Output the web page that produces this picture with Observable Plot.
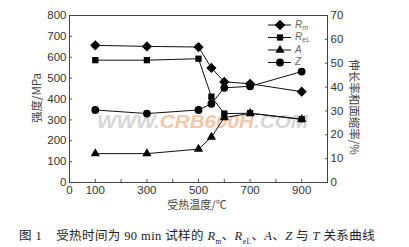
<!DOCTYPE html>
<html>
<head>
<meta charset="utf-8">
<script src="https://cdn.jsdelivr.net/npm/d3@7"></script>
<script src="https://cdn.jsdelivr.net/npm/@observablehq/plot@0.6"></script>
<style>
  html, body { margin: 0; padding: 0; background: #fff; }
  #chart { width: 409px; }
  .caption { font-family: "Liberation Serif", "Noto Sans CJK SC", serif; font-size: 12.5px; color: #222; margin: 11px 0 0 19px; white-space: nowrap; letter-spacing: 0.4px; }
  .caption i { font-family: "Liberation Serif", serif; }
  .caption sub { font-size: 7.5px; }
</style>
</head>
<body>
<div id="chart"></div>
<script>
const temps = [100, 300, 500, 550, 600, 700, 900];
const Rm  = [657, 652, 649, 549, 482, 473, 435];
const ReL = [586, 586, 593, 411, 330, 332, 303];
const A   = [12.1, 12.1, 14.0, 19.0, 27.2, 29.0, 26.5];
const Z   = [30.4, 28.9, 30.4, 33.0, 39.7, 40.3, 46.5];
const leftTicks = [0, 100, 200, 300, 400, 500, 600, 700, 800];
const rightTicks = [0, 10, 20, 30, 40, 50, 60, 70];
const xTicks = [0, 100, 200, 300, 400, 500, 600, 700, 800, 900, 1000];
const xLabeled = [0, 100, 300, 500, 700, 900];

const k = 800 / 70; // right-axis % -> left-axis MPa
const series = [
  {name: "Rm",  vals: Rm,  scale: 1, symbol: "diamond2", r: 4.6},
  {name: "ReL", vals: ReL, scale: 1, symbol: "square2", r: 4.0},
  {name: "A",   vals: A,   scale: k, symbol: "triangle2", r: 4.4},
  {name: "Z",   vals: Z,   scale: k, symbol: "circle", r: 3.9}
];
const rows = series.flatMap(s => temps.map((t, i) => ({series: s.name, t, v: s.vals[i] * s.scale, sym: s.symbol, r: s.r})));

const W = 409, H = 214;
const font = "'Liberation Sans', Arial, sans-serif";
const plot = Plot.plot({
  width: W, height: H,
  marginLeft: 69, marginRight: 82, marginTop: 15, marginBottom: H - 182,
  style: {fontFamily: font, fontSize: "11.5px", color: "#333", background: "#fff"},
  x: {domain: [0, 1000]},
  y: {domain: [0, 800]},
  marks: [
    Plot.axisX({ticks: xTicks, tickSize: -3, tickPadding: 6, stroke: "#555",
      tickFormat: d => xLabeled.includes(d) ? String(d) : "", label: null}),
    Plot.axisY({ticks: leftTicks, tickSize: -3, tickPadding: 6, stroke: "#555", label: null}),
    Plot.axisY({anchor: "right", ticks: rightTicks.map(d => d * k), tickSize: -3, tickPadding: 6, stroke: "#555",
      tickFormat: d => String(Math.round(d / k)), label: null}),
    Plot.frame({stroke: "#444", strokeWidth: 1}),
    Plot.line(rows, {x: "t", y: "v", z: "series", stroke: "#111", strokeWidth: 1}),
    Plot.dot(rows, {x: "t", y: "v", symbol: "sym", r: "r", fill: "#000", stroke: "none"})
  ],
  symbol: {type: "identity"},
  r: {type: "identity"}
});
document.getElementById("chart").appendChild(plot);

const svg = d3.select(plot);
const cjk = "'Noto Sans CJK SC', sans-serif";
// watermark (drawn beneath the marks)
const wm = svg.insert("text", ":first-child").attr("x", 97).attr("y", 128)
  .attr("text-anchor", "start")
  .attr("textLength", 211).attr("lengthAdjust", "spacingAndGlyphs")
  .style("font-family", font).style("font-size", "19px").style("font-weight", "bold").style("font-style", "italic");
wm.append("tspan").attr("fill", "#d6d6d6").text("WWW.");
wm.append("tspan").attr("fill", "#f6c6a8").text("CRB600H");
wm.append("tspan").attr("fill", "#d6d6d6").text(".COM");

// axis titles
svg.append("text").attr("transform", "translate(38,98) rotate(-90)")
  .attr("text-anchor", "middle").attr("dominant-baseline", "middle")
  .style("font-family", cjk).style("font-size", "11.5px").attr("fill", "#444")
  .text("强度/MPa");
svg.append("text").attr("transform", "translate(353,107) rotate(90)")
  .attr("text-anchor", "middle").attr("dominant-baseline", "middle")
  .style("font-family", cjk).style("font-size", "11.5px").attr("fill", "#444")
  .text("伸长率和面缩率/%");
svg.append("text").attr("x", 197).attr("y", 206)
  .attr("text-anchor", "middle").attr("dominant-baseline", "middle")
  .style("font-family", cjk).style("font-size", "11px").attr("fill", "#444")
  .text("受热温度/℃");

// legend
const legendY = [25, 37.5, 50, 62.5];
const symMap = {Rm: d3.symbolDiamond2, ReL: d3.symbolSquare2, A: d3.symbolTriangle2, Z: d3.symbolCircle};
const symSize = {Rm: 70, ReL: 50, A: 60, Z: 48};
const lg = svg.append("g").attr("text-anchor", "start");
series.forEach((s, i) => {
  const y = legendY[i];
  lg.append("line").attr("x1", 268).attr("x2", 291).attr("y1", y).attr("y2", y).attr("stroke", "#111");
  lg.append("path").attr("d", d3.symbol(symMap[s.name], symSize[s.name])()).attr("transform", `translate(280,${y})`).attr("fill", "#000");
  const t = lg.append("text").attr("x", 295).attr("y", y).attr("dominant-baseline", "middle")
    .style("font-family", font).style("font-size", "10px").style("font-style", "italic").attr("fill", "#666");
  if (s.name === "Rm") { t.text("R"); t.append("tspan").attr("dy", 2.5).style("font-size", "7px").style("font-style", "normal").text("m"); }
  else if (s.name === "ReL") { t.text("R"); t.append("tspan").attr("dy", 2.5).style("font-size", "7px").style("font-style", "normal").text("eL"); }
  else t.text(s.name);
});

// caption
const cap = document.createElement("div");
cap.className = "caption";
cap.innerHTML = "图 1&nbsp;&nbsp;&nbsp;&nbsp;受热时间为 90 min 试样的 <i>R</i><sub>m</sub>、<i>R</i><sub>eL</sub>、<i>A</i>、<i>Z</i> 与 <i>T</i> 关系曲线";
document.getElementById("chart").appendChild(cap);
</script>
</body>
</html>
